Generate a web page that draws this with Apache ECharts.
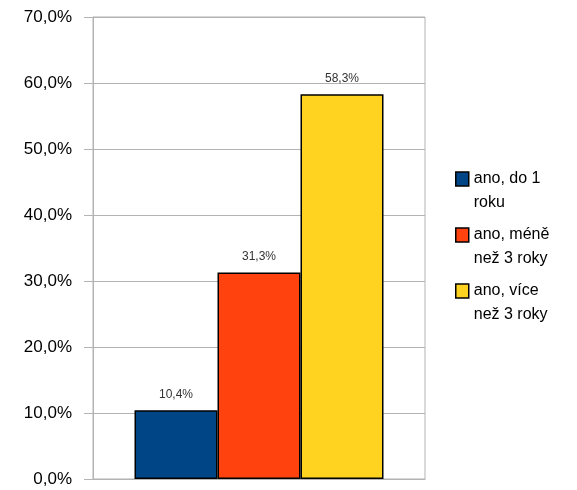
<!DOCTYPE html>
<html>
<head>
<meta charset="utf-8">
<script src="https://cdn.jsdelivr.net/npm/echarts@6/dist/echarts.min.js"></script>
<style>
  html, body { margin: 0; padding: 0; background: #fff; }
  #chart { width: 577px; height: 490px; }
</style>
</head>
<body>
<div id="chart"></div>
<script>
// data
const seriesNames = ['ano, do 1 roku', 'ano, méně než 3 roky', 'ano, více než 3 roky']
// leading empty line keeps the first text line level with the legend square
const legendLines = ['\nano, do 1\nroku', '\nano, méně\nnež 3 roky', '\nano, více\nnež 3 roky']
const values = [10.4, 31.3, 58.3]
const colors = ['#004586', '#ff420e', '#ffd320']
const yTicks = [0, 10, 20, 30, 40, 50, 60, 70]

const fmt = v => v.toFixed(1).replace('.', ',') + '%'

const chart = echarts.init(document.getElementById('chart'))
const option = {
  animation: false,
  color: colors,
  textStyle: { fontFamily: 'Liberation Sans' },
  grid: {
    left: 93,
    top: 17,
    width: 332,
    height: 462,
    show: true,
    borderColor: '#b3b3b3',
    borderWidth: 1
  },
  legend: {
    orient: 'vertical',
    left: 450,
    top: 138,
    icon: 'rect',
    itemWidth: 13,
    itemHeight: 14,
    itemGap: -16,
    itemStyle: { borderColor: '#000', borderWidth: 1.5 },
    data: seriesNames,
    formatter: name => legendLines[seriesNames.indexOf(name)],
    textStyle: {
      fontSize: 16,
      color: '#000',
      lineHeight: 24
    }
  },
  xAxis: {
    type: 'category',
    data: [''],
    axisLine: { lineStyle: { color: '#b3b3b3' } },
    axisTick: { alignWithLabel: true, length: 10, lineStyle: { color: '#b3b3b3' } },
    axisLabel: { show: false }
  },
  yAxis: {
    type: 'value',
    min: yTicks[0],
    max: yTicks[yTicks.length - 1],
    interval: 10,
    axisLine: { show: true, lineStyle: { color: '#b3b3b3' } },
    axisTick: { show: true, length: 9, lineStyle: { color: '#b3b3b3' } },
    splitLine: { lineStyle: { color: '#b3b3b3' } },
    axisLabel: { fontSize: 17, color: '#000', margin: 21, formatter: fmt }
  },
  series: seriesNames.map((name, i) => ({
    name,
    type: 'bar',
    barGap: '0%',
    barCategoryGap: '25%',
    data: [values[i]],
    itemStyle: { borderColor: '#000', borderWidth: 1.5 },
    label: {
      show: true,
      position: 'top',
      distance: 10,
      fontSize: 12,
      color: '#333',
      formatter: p => fmt(p.value)
    }
  }))
}
chart.setOption(option)
</script>
</body>
</html>
